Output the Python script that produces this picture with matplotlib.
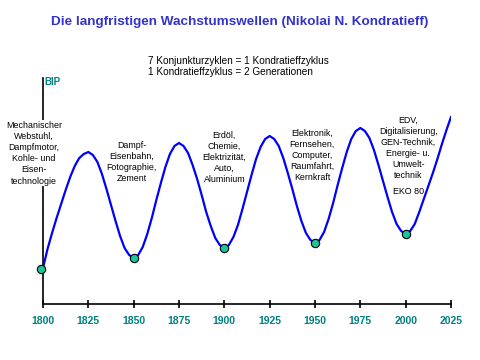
import matplotlib
matplotlib.use("Agg")
import matplotlib.pyplot as plt

# Wellenverlauf (alle 2,5 Jahre)
jahre = [1800 + 2.5 * i for i in range(91)]
bip = [36, 55, 71, 86, 100, 114, 127, 138, 146, 150,
       152, 149, 142, 130, 115, 99, 83, 68, 56, 49,
       46, 49, 57, 70, 86, 104, 121, 137, 150, 158,
       161, 158, 151, 139, 125, 109, 92, 78, 66, 59,
       56, 59, 67, 79, 95, 112, 129, 145, 157, 165,
       168, 165, 158, 146, 131, 115, 98, 83, 71, 64,
       61, 64, 72, 85, 101, 119, 136, 152, 165, 173,
       176, 173, 166, 154, 139, 123, 107, 92, 80, 73,
       70, 73, 80, 92, 105, 118, 131, 145, 160, 174,
       187]

tief_jahre = [1799, 1850, 1900, 1950, 2000]
tief_werte = [35, 46, 56, 61, 70]

achse_jahre = [1800, 1825, 1850, 1875, 1900, 1925, 1950, 1975, 2000, 2025]

titel = "Die langfristigen Wachstumswellen (Nikolai N. Kondratieff)"
untertitel = ["7 Konjunkturzyklen = 1 Kondratieffzyklus",
              "1 Kondratieffzyklus = 2 Generationen"]

texte = [
    (1795, 183, "Mechanischer\nWebstuhl,\nDampfmotor,\nKohle- und\nEisen-\ntechnologie"),
    (1849, 163, "Dampf-\nEisenbahn,\nFotographie,\nZement"),
    (1900, 173, "Erdöl,\nChemie,\nElektrizität,\nAuto,\nAluminium"),
    (1948.5, 175, "Elektronik,\nFernsehen,\nComputer,\nRaumfahrt,\nKernkraft"),
    (2001.5, 188, "EDV,\nDigitalisierung,\nGEN-Technik,\nEnergie- u.\nUmwelt-\ntechnik"),
]

teal = "#008080"
font = ["Liberation Sans", "DejaVu Sans"]
narrow = ["Liberation Sans Narrow", "Liberation Sans", "DejaVu Sans"]

fig = plt.figure(figsize=(4.8, 3.6), dpi=100)
ax = fig.add_axes([43 / 480, 56 / 360, 408 / 480, 226 / 360])

ax.plot(jahre, bip, color="#0000ff", lw=1.6, zorder=3)
ax.plot(tief_jahre, tief_werte, "o", ms=6, mfc="#1dc49a", mec="black",
        mew=0.8, clip_on=False, zorder=4)

ax.set_xlim(1800, 2025)
ax.set_ylim(0, 226)
ax.spines["top"].set_visible(False)
ax.spines["right"].set_visible(False)
for s in ["left", "bottom"]:
    ax.spines[s].set_linewidth(1.2)
ax.set_yticks([])
ax.set_xticks(achse_jahre)
ax.set_xticklabels([str(j) for j in achse_jahre], family=narrow,
                   fontweight="bold", fontsize=7.5, color=teal)
ax.tick_params(axis="x", direction="inout", length=6, width=1.2, pad=5.5)

ax.text(1800.5, 222, "BIP", family=font, fontweight="bold", fontsize=7,
        color=teal, va="center", ha="left")

for i, (x, y, t) in enumerate(texte):
    box = dict(fc="white", ec="none", pad=0.5) if i == 0 else None
    ax.text(x, y, t, family=font, fontsize=6.4, ha="center", va="top",
            linespacing=1.3, zorder=5, bbox=box)
ax.text(2001.5, 112, "EKO 80", family=font, fontsize=6.4, ha="center",
        va="center")

fig.text(0.5, 1 - 22 / 360, titel, family=font, fontweight="bold",
         fontsize=9.7, color="#3333cc", ha="center", va="center")
fig.text(148 / 480, 1 - 61 / 360, untertitel[0], family=font, fontsize=7.2,
         ha="left", va="center")
fig.text(148 / 480, 1 - 72 / 360, untertitel[1], family=font, fontsize=7.2,
         ha="left", va="center")

fig.savefig("out.png", dpi=100)
